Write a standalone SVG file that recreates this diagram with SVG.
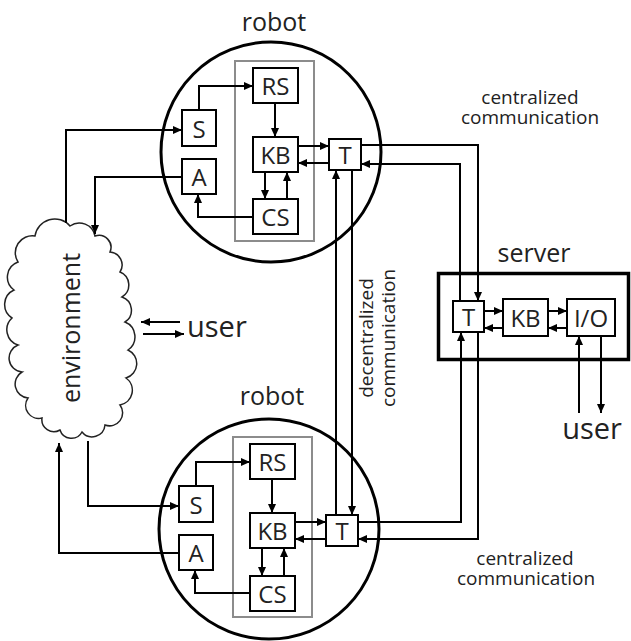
<svg xmlns="http://www.w3.org/2000/svg" width="631" height="641" viewBox="0 0 631 641">
  <style>
    .bg { fill: #ffffff; }
    .robot { fill: none; stroke: #000; stroke-width: 3; }
    .core { fill: none; stroke: #8c8c8c; stroke-width: 2; }
    .box { fill: #fff; stroke: #000; stroke-width: 2; }
    .srv { fill: none; stroke: #000; stroke-width: 3.5; }
    .cloud { fill: #fff; stroke: #222; stroke-width: 1.5; }
    .wire { fill: none; stroke: #000; stroke-width: 2; }
    .arr { marker-end: url(#head); }
    text { font-family: "Open Sans", "DejaVu Sans", sans-serif; fill: #222; }
    .lbl { font-size: 24px; text-anchor: middle; dominant-baseline: central; }
    .title { font-size: 25px; text-anchor: middle; }
    .big { font-size: 29px; }
    .note { font-size: 19px; text-anchor: middle; }
  </style>
  <defs>
    <marker id="head" markerUnits="userSpaceOnUse" markerWidth="10" markerHeight="8" refX="9" refY="4" orient="auto">
      <path d="M0,0 L9,4 L0,8 z" fill="#000"/>
    </marker>
  </defs>
  <rect class="bg" x="0" y="0" width="631" height="641"/>

  <!-- environment cloud -->
  <g id="environment">
    <path class="cloud" d="M35,236 A20,20 0 0 1 70,226 A16,16 0 0 1 95,236 A12,12 0 0 1 110,252 A13,13 0 0 1 120,272 A14,14 0 0 1 122,297 A14,14 0 0 1 125,322 A16,16 0 0 1 128,350 A15,15 0 0 1 126,378 A15,15 0 0 1 120,405 A13,13 0 0 1 105,425 A13,13 0 0 1 82,432 A12,12 0 0 1 60,430 A12,12 0 0 1 42,418 A13,13 0 0 1 28,398 A14,14 0 0 1 22,372 A14,14 0 0 1 18,345 A16,16 0 0 1 12,318 A16,16 0 0 1 14,290 A16,16 0 0 1 18,262 A17,17 0 0 1 35,236 Z"/>
    <text class="title" transform="translate(80,328) rotate(-90)">environment</text>
  </g>

  <!-- upper robot -->
  <g id="robot-top">
    <circle class="robot" cx="271" cy="152" r="110"/>
    <text class="title" x="274" y="31">robot</text>
    <rect class="core" x="235" y="61" width="79" height="180"/>
  </g>
  <g id="robot-top-S"><rect class="box" x="182" y="110" width="34" height="36"/><text class="lbl" x="199" y="128">S</text></g>
  <g id="robot-top-A"><rect class="box" x="182" y="159" width="34" height="35"/><text class="lbl" x="199" y="176.5">A</text></g>
  <g id="robot-top-RS"><rect class="box" x="253" y="68" width="45" height="35"/><text class="lbl" x="275.5" y="85.5">RS</text></g>
  <g id="robot-top-KB"><rect class="box" x="253" y="137" width="45" height="35"/><text class="lbl" x="275.5" y="154.5">KB</text></g>
  <g id="robot-top-CS"><rect class="box" x="253" y="199" width="45" height="35"/><text class="lbl" x="275.5" y="216.5">CS</text></g>
  <g id="robot-top-T"><rect class="box" x="329" y="139" width="32" height="31"/><text class="lbl" x="345" y="154.5">T</text></g>

  <!-- lower robot -->
  <g id="robot-bottom">
    <circle class="robot" cx="269" cy="529" r="110"/>
    <text class="title" x="272" y="405">robot</text>
    <rect class="core" x="233" y="437" width="79" height="180"/>
  </g>
  <g id="robot-bottom-S"><rect class="box" x="179" y="486" width="34" height="36"/><text class="lbl" x="196" y="504">S</text></g>
  <g id="robot-bottom-A"><rect class="box" x="179" y="535" width="34" height="35"/><text class="lbl" x="196" y="552.5">A</text></g>
  <g id="robot-bottom-RS"><rect class="box" x="250" y="444" width="45" height="35"/><text class="lbl" x="272.5" y="461.5">RS</text></g>
  <g id="robot-bottom-KB"><rect class="box" x="250" y="513" width="45" height="35"/><text class="lbl" x="272.5" y="530.5">KB</text></g>
  <g id="robot-bottom-CS"><rect class="box" x="250" y="576" width="45" height="35"/><text class="lbl" x="272.5" y="593.5">CS</text></g>
  <g id="robot-bottom-T"><rect class="box" x="326" y="515" width="32" height="31"/><text class="lbl" x="342" y="530.5">T</text></g>

  <!-- server -->
  <g id="server">
    <text class="title" x="534" y="262">server</text>
    <rect class="srv" x="438.5" y="273.5" width="190" height="86"/>
  </g>
  <g id="server-T"><rect class="box" x="453" y="301" width="31" height="31"/><text class="lbl" x="468.5" y="316.5">T</text></g>
  <g id="server-KB"><rect class="box" x="503" y="299" width="45" height="37"/><text class="lbl" x="525.5" y="317.5">KB</text></g>
  <g id="server-IO"><rect class="box" x="567" y="299" width="48" height="37"/><text class="lbl" x="591" y="317.5">I/O</text></g>

  <!-- users -->
  <g id="user-env"><text class="big" x="187" y="337">user</text></g>
  <g id="user-server"><text class="big" x="592" y="439" text-anchor="middle">user</text></g>

  <!-- link labels, two lines each -->
  <g id="label-central-top">
    <text class="note" x="530" y="104"><tspan x="530">centralized</tspan><tspan x="530" dy="20">communication</tspan></text>
  </g>
  <g id="label-central-bottom">
    <text class="note" x="525" y="565"><tspan x="525">centralized</tspan><tspan x="526" dy="20">communication</tspan></text>
  </g>
  <g id="label-decentral" transform="translate(373,338) rotate(-90)">
    <text class="note" x="0" y="0"><tspan x="0">decentralized</tspan><tspan x="0" dy="22">communication</tspan></text>
  </g>

  <!-- connectors -->
  <g id="connectors">
    <!-- upper robot internals -->
    <path class="wire arr" d="M199,110 V86 H253"/>
    <path class="wire arr" d="M275,103 V137"/>
    <path class="wire arr" d="M298,146 H329"/>
    <path class="wire arr" d="M329,163 H298"/>
    <path class="wire arr" d="M265,172 V199"/>
    <path class="wire arr" d="M287,199 V172"/>
    <path class="wire arr" d="M253,217 H198 V194"/>
    <!-- upper robot and environment -->
    <path class="wire arr" d="M66,223 V130 H182"/>
    <path class="wire arr" d="M182,177 H95 V234"/>
    <!-- upper robot and server -->
    <path class="wire arr" d="M361,145 H478 V301"/>
    <path class="wire arr" d="M460,301 V164 H361"/>
    <!-- robot to robot -->
    <path class="wire arr" d="M352,170 V515"/>
    <path class="wire arr" d="M336,515 V170"/>
    <!-- lower robot internals -->
    <path class="wire arr" d="M196,486 V462 H250"/>
    <path class="wire arr" d="M272,479 V513"/>
    <path class="wire arr" d="M295,522 H326"/>
    <path class="wire arr" d="M326,539 H295"/>
    <path class="wire arr" d="M262,548 V576"/>
    <path class="wire arr" d="M284,576 V548"/>
    <path class="wire arr" d="M250,593 H195 V570"/>
    <!-- lower robot and environment -->
    <path class="wire arr" d="M88,441 V506 H179"/>
    <path class="wire arr" d="M179,553 H59 V443"/>
    <!-- lower robot and server -->
    <path class="wire arr" d="M358,522 H461 V332"/>
    <path class="wire arr" d="M478,332 V539 H358"/>
    <!-- server internals -->
    <path class="wire arr" d="M484,311 H503"/>
    <path class="wire arr" d="M503,328 H484"/>
    <path class="wire arr" d="M548,311 H567"/>
    <path class="wire arr" d="M567,328 H548"/>
    <!-- users -->
    <path class="wire arr" d="M579,413 V336"/>
    <path class="wire arr" d="M601,336 V413"/>
    <path class="wire arr" d="M180,322 H141"/>
    <path class="wire arr" d="M143,334 H184"/>
  </g>
</svg>
